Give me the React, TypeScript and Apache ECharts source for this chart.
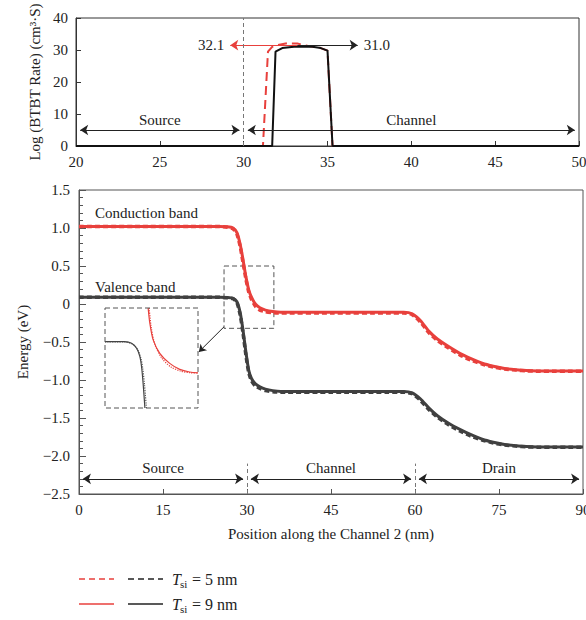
import React, { useEffect, useRef } from 'react';
import * as echarts from 'echarts';

const FONT = '"Liberation Serif", "DejaVu Serif", serif';
const RED = '#e8403c';
const DARK = '#404040';
const TXT = '#222';

// ---- Top panel: BTBT rate ----
const rateX9 = [20, 31.7, 31.9, 32.3, 33.0, 34.0, 34.6, 35.0, 35.3, 50];
const rate9 = [0, 0, 29.5, 30.6, 31.0, 31.1, 30.6, 29.8, 0, 0];
const rateX5 = [20, 31.15, 31.45, 31.7, 32.0, 32.6, 33.2, 33.8, 34.6, 35.0, 35.3, 50];
const rate5 = [0, 0, 29.5, 31.0, 31.5, 32.1, 32.0, 31.3, 30.6, 29.8, 0, 0];
const topRegions = ['Source', 'Channel'];
const topBounds = [[20, 30], [30, 50]];
const peakLabels = ['32.1', '31.0'];

// ---- Bottom panel: band diagram ----
const bandX = [0, 10, 20, 25, 26.5, 27.5, 28.2, 28.8, 29.3, 29.8, 30.3, 30.8, 31.5, 32.3, 33.3, 34.6, 36, 45, 55, 58, 59.5, 61, 62.5, 64, 66, 68, 70, 72, 74, 76, 78, 80, 82, 85, 88, 90];
const cb9 = [1.02, 1.02, 1.02, 1.02, 1.015, 1.0, 0.94, 0.78, 0.58, 0.36, 0.19, 0.09, 0.0, -0.05, -0.08, -0.10, -0.11, -0.11, -0.11, -0.11, -0.13, -0.22, -0.36, -0.46, -0.56, -0.65, -0.72, -0.78, -0.82, -0.85, -0.865, -0.875, -0.88, -0.88, -0.88, -0.88];
const cb5 = [1.02, 1.02, 1.02, 1.02, 1.01, 0.99, 0.92, 0.75, 0.54, 0.33, 0.16, 0.06, -0.03, -0.08, -0.10, -0.115, -0.12, -0.12, -0.12, -0.12, -0.14, -0.24, -0.38, -0.48, -0.58, -0.67, -0.74, -0.79, -0.83, -0.855, -0.87, -0.88, -0.885, -0.885, -0.885, -0.885];
const vb9 = [0.09, 0.09, 0.09, 0.09, 0.085, 0.075, 0.03, -0.12, -0.35, -0.63, -0.87, -0.98, -1.05, -1.09, -1.12, -1.14, -1.15, -1.15, -1.15, -1.15, -1.17, -1.25, -1.37, -1.47, -1.57, -1.65, -1.72, -1.78, -1.82, -1.85, -1.865, -1.875, -1.88, -1.88, -1.88, -1.88];
const vb5 = [0.09, 0.09, 0.09, 0.09, 0.08, 0.07, 0.02, -0.15, -0.39, -0.67, -0.9, -1.01, -1.08, -1.11, -1.14, -1.155, -1.16, -1.16, -1.16, -1.16, -1.18, -1.27, -1.39, -1.49, -1.59, -1.67, -1.74, -1.79, -1.83, -1.855, -1.87, -1.88, -1.885, -1.885, -1.885, -1.885];
const bottomRegions = ['Source', 'Channel', 'Drain'];
const bottomBounds = [[0, 30], [30, 60], [60, 90]];
const zoomBox = [[25.9, 0.5], [34.8, -0.32]];

// ---- Inset (zoomed view, relative units 0-100) ----
const insetBlackX9 = [0, 21, 28.6, 34, 37.5, 39.3, 41, 42.9];
const insetBlack9 = [66.4, 66.4, 64.8, 59.7, 51.3, 41.3, 24.5, 0];
const insetBlackX5 = [0, 21, 29.5, 35, 38.5, 40.5, 42.5, 44.5];
const insetBlack5 = [66, 66, 64, 58.5, 50, 40, 23, 0];
const insetRedX9 = [46.4, 48.2, 51.8, 58.9, 69.6, 80.4, 91, 100];
const insetRed9 = [100, 84.9, 68.1, 54.7, 44.6, 38.6, 36, 35.2];
const insetRedX5 = [47.5, 49.5, 53.5, 61, 71, 81, 91, 100];
const insetRed5 = [100, 82, 64, 50, 41, 37, 35.3, 35];

const zip = (xs: number[], ys: number[]) => xs.map((x, i) => [x, ys[i]]);

const txt = { fontFamily: FONT, fontSize: 15, color: TXT };

function regionArrows(names: string[], bounds: number[][], y: number, gap: number) {
  return names.map((n, i) => [
    {
      coord: [bounds[i][0] + gap, y],
      symbol: 'arrow',
      symbolSize: 8,
      lineStyle: { color: '#222', width: 1, type: 'solid' },
      label: { show: true, formatter: n, position: 'insideMiddleTop', distance: 3, ...txt },
    },
    { coord: [bounds[i][1] - gap, y], symbol: 'arrow', symbolSize: 8 },
  ]);
}

function legendRow(y: number, label: string, dashed: boolean) {
  const t = dashed ? [6, 4] : null;
  return [
    { type: 'line', shape: { x1: 79, y1: y, x2: 114, y2: y }, style: { stroke: RED, lineWidth: 1.5, lineDash: t } },
    { type: 'line', shape: { x1: 128, y1: y, x2: 163, y2: y }, style: { stroke: '#222', lineWidth: 1.5, lineDash: t } },
    { type: 'text', x: 172, y, style: { text: 'T', font: `italic 16px ${FONT}`, fill: TXT, verticalAlign: 'middle' } },
    { type: 'text', x: 180, y: y + 5, style: { text: 'si', font: `11px ${FONT}`, fill: TXT, verticalAlign: 'middle' } },
    { type: 'text', x: 192, y, style: { text: label, font: `16px ${FONT}`, fill: TXT, verticalAlign: 'middle' } },
  ];
}

export default function App() {
  const ref = useRef<HTMLDivElement>(null);
  useEffect(() => {
    if (!ref.current) return;
    const chart = echarts.init(ref.current, null, { renderer: 'svg' });
    const axisCommon = (color: string) => ({
      axisLine: { show: true, onZero: false, lineStyle: { color, width: 1 } },
      axisTick: { show: true, inside: true, length: 5, lineStyle: { color } },
      splitLine: { show: false },
      axisLabel: { ...txt, margin: 8 },
      nameTextStyle: { ...txt },
    });
    const option: any = {
      animation: false,
      backgroundColor: '#fff',
      textStyle: { fontFamily: FONT },
      grid: [
        { left: 76, top: 18, width: 503, height: 128, show: true, borderColor: '#333', borderWidth: 1, outerBoundsMode: 'none', containLabel: false },
        { left: 79, top: 190, width: 504, height: 304, show: true, borderColor: '#555', borderWidth: 1, outerBoundsMode: 'none', containLabel: false },
        { left: 105, top: 308, width: 93, height: 100, outerBoundsMode: 'none', containLabel: false },
      ],
      xAxis: [
        { gridIndex: 0, type: 'value', min: 20, max: 50, interval: 5, ...axisCommon('#333') },
        {
          gridIndex: 1, type: 'value', min: 0, max: 90, interval: 15, ...axisCommon('#555'),
          name: 'Position along the Channel 2 (nm)', nameLocation: 'middle', nameGap: 32,
        },
        { gridIndex: 2, type: 'value', min: 0, max: 100, show: false },
      ],
      yAxis: [
        {
          gridIndex: 0, type: 'value', min: 0, max: 40, interval: 10, ...axisCommon('#333'),
          name: 'Log (BTBT Rate) (cm³·S)', nameLocation: 'middle', nameGap: 32,
        },
        {
          gridIndex: 1, type: 'value', min: -2.5, max: 1.5, interval: 0.5, ...axisCommon('#555'),
          axisTick: { show: true, inside: true, length: 7, lineStyle: { color: '#555' } },
          minorTick: { show: true, splitNumber: 5, length: 4, lineStyle: { color: '#555' } },
          axisLabel: { ...txt, margin: 9, formatter: (v: number) => (v === 0 ? '0' : v.toFixed(1).replace('-', '−')) },
          name: 'Energy (eV)', nameLocation: 'middle', nameGap: 49,
        },
        { gridIndex: 2, type: 'value', min: 0, max: 100, show: false },
      ],
      series: [
        {
          type: 'line', xAxisIndex: 0, yAxisIndex: 0, data: zip(rateX5, rate5), showSymbol: false,
          lineStyle: { color: RED, width: 2, type: [9, 5] },
          markLine: {
            silent: true, symbol: ['none', 'arrow'], symbolSize: 8, label: { show: false },
            data: [[
              { coord: [33.2, 31.5], symbol: 'none', lineStyle: { color: RED, width: 1, type: 'solid' },
                label: { show: true, formatter: peakLabels[0], position: 'end', distance: 6, ...txt } },
              { coord: [29.2, 31.5], symbol: 'arrow', symbolSize: 8 },
            ]],
          },
        },
        {
          type: 'line', xAxisIndex: 0, yAxisIndex: 0, data: zip(rateX9, rate9), showSymbol: false,
          lineStyle: { color: '#111', width: 2 },
          markLine: {
            silent: true, symbol: ['none', 'none'], label: { show: false },
            data: [
              [
                { coord: [33.2, 31.5], symbol: 'none', lineStyle: { color: '#222', width: 1, type: 'solid' },
                  label: { show: true, formatter: peakLabels[1], position: 'end', distance: 6, ...txt } },
                { coord: [36.8, 31.5], symbol: 'arrow', symbolSize: 8 },
              ],
              [
                { coord: [30, 0], symbol: 'none', lineStyle: { color: '#777', width: 1, type: [4, 3] } },
                { coord: [30, 40], symbol: 'none' },
              ],
              ...regionArrows(topRegions, topBounds, 5, 0.25),
            ],
          },
        },
        {
          type: 'line', xAxisIndex: 1, yAxisIndex: 1, data: zip(bandX, cb5), showSymbol: false, smooth: 0.2,
          lineStyle: { color: RED, width: 3.5, type: [5, 3] },
        },
        {
          type: 'line', xAxisIndex: 1, yAxisIndex: 1, data: zip(bandX, vb5), showSymbol: false, smooth: 0.2,
          lineStyle: { color: DARK, width: 3.5, type: [5, 3] },
        },
        {
          type: 'line', xAxisIndex: 1, yAxisIndex: 1, data: zip(bandX, cb9), showSymbol: false, smooth: 0.2,
          lineStyle: { color: RED, width: 3 },
          markArea: {
            silent: true,
            itemStyle: { color: 'rgba(0,0,0,0)', borderColor: '#555', borderWidth: 1, borderType: [5, 3] },
            data: [[{ coord: zoomBox[0] }, { coord: zoomBox[1] }]],
          },
        },
        {
          type: 'line', xAxisIndex: 1, yAxisIndex: 1, data: zip(bandX, vb9), showSymbol: false, smooth: 0.2,
          lineStyle: { color: DARK, width: 3 },
          markLine: {
            silent: true, symbol: ['none', 'none'], label: { show: false },
            data: [
              ...regionArrows(bottomRegions, bottomBounds, -2.3, 0.7),
              [
                { coord: [30, -2.5], symbol: 'none', lineStyle: { color: '#777', width: 1, type: [4, 3] } },
                { coord: [30, -2.1], symbol: 'none' },
              ],
              [
                { coord: [60, -2.5], symbol: 'none', lineStyle: { color: '#777', width: 1, type: [4, 3] } },
                { coord: [60, -2.1], symbol: 'none' },
              ],
              [
                { coord: [25.9, -0.3], symbol: 'none', lineStyle: { color: '#222', width: 1, type: 'solid' } },
                { coord: [21.4, -0.63], symbol: 'arrow', symbolSize: 7 },
              ],
            ],
          },
        },
        {
          type: 'line', xAxisIndex: 2, yAxisIndex: 2, data: zip(insetBlackX5, insetBlack5), showSymbol: false, smooth: 0.3,
          lineStyle: { color: '#555', width: 1.2, type: 'dotted' },
        },
        {
          type: 'line', xAxisIndex: 2, yAxisIndex: 2, data: zip(insetRedX5, insetRed5), showSymbol: false, smooth: 0.3,
          lineStyle: { color: RED, width: 1.2, type: 'dotted' },
        },
        {
          type: 'line', xAxisIndex: 2, yAxisIndex: 2, data: zip(insetBlackX9, insetBlack9), showSymbol: false, smooth: 0.3,
          lineStyle: { color: '#444', width: 1.2 },
        },
        {
          type: 'line', xAxisIndex: 2, yAxisIndex: 2, data: zip(insetRedX9, insetRed9), showSymbol: false, smooth: 0.3,
          lineStyle: { color: RED, width: 1.2 },
        },
      ],
      graphic: [
        { type: 'rect', shape: { x: 105, y: 308, width: 93, height: 100 }, style: { fill: 'none', stroke: '#555', lineWidth: 1, lineDash: [5, 3] }, z: 10 },
        { type: 'text', x: 95, y: 213, style: { text: 'Conduction band', font: `15px ${FONT}`, fill: TXT, verticalAlign: 'middle' } },
        { type: 'text', x: 95, y: 287, style: { text: 'Valence band', font: `15px ${FONT}`, fill: TXT, verticalAlign: 'middle' } },
        ...legendRow(579, '= 5 nm', true),
        ...legendRow(604, '= 9 nm', false),
      ],
    };
    chart.setOption(option);
    return () => chart.dispose();
  }, []);
  return <div ref={ref} style={{ position: 'fixed', left: 0, top: 0, width: 586, height: 620 }} />;
}
